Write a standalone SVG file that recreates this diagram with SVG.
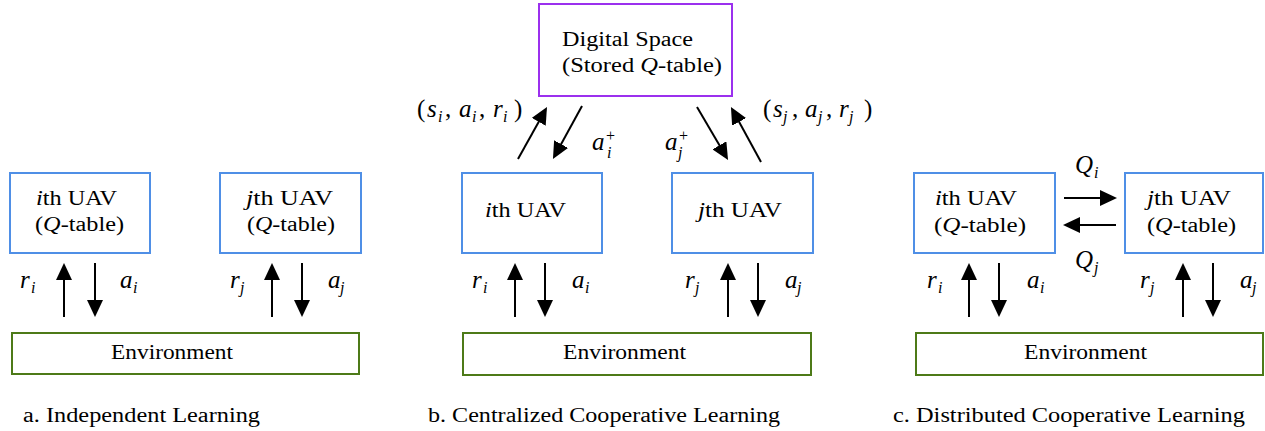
<svg xmlns="http://www.w3.org/2000/svg" width="1265" height="431" viewBox="0 0 1265 431">
<defs>
<marker id="ah" markerUnits="userSpaceOnUse" markerWidth="17" markerHeight="16" refX="9" refY="8" orient="auto">
<path d="M0,0 L17,8 L0,16 z" fill="#000"/>
</marker>
</defs>
<rect width="1265" height="431" fill="#fff"/>
<g id="a-uav-i"><rect fill="#fff" stroke="#4f8fe6" stroke-width="2" x="10" y="173" width="140" height="80"/>
<text font-family="Liberation Serif" font-size="20" x="36" y="205" textLength="81" lengthAdjust="spacingAndGlyphs"><tspan font-style="italic">i</tspan>th UAV</text>
<text font-family="Liberation Serif" font-size="20" x="35" y="231" textLength="89" lengthAdjust="spacingAndGlyphs">(<tspan font-style="italic">Q</tspan>-table)</text></g>
<g id="a-uav-j"><rect fill="#fff" stroke="#4f8fe6" stroke-width="2" x="220" y="173" width="141" height="80"/>
<text font-family="Liberation Serif" font-size="20" x="246" y="205" textLength="87" lengthAdjust="spacingAndGlyphs"><tspan font-style="italic">j</tspan>th UAV</text>
<text font-family="Liberation Serif" font-size="20" x="247" y="231" textLength="88" lengthAdjust="spacingAndGlyphs">(<tspan font-style="italic">Q</tspan>-table)</text></g>
<g id="a-env"><rect fill="#fff" stroke="#4d7a18" stroke-width="2" x="12" y="333" width="347" height="41"/>
<text font-family="Liberation Serif" font-size="20" x="111" y="359" textLength="122" lengthAdjust="spacingAndGlyphs">Environment</text></g>
<g id="b-digital"><rect fill="#fff" stroke="#9b30ee" stroke-width="2" x="539" y="4" width="193" height="92"/>
<text font-family="Liberation Serif" font-size="20" x="562" y="46" textLength="131" lengthAdjust="spacingAndGlyphs">Digital Space</text>
<text font-family="Liberation Serif" font-size="20" x="562" y="72" textLength="160" lengthAdjust="spacingAndGlyphs">(Stored <tspan font-style="italic">Q</tspan>-table)</text></g>
<g id="b-uav-i"><rect fill="#fff" stroke="#4f8fe6" stroke-width="2" x="462" y="173" width="140" height="80"/>
<text font-family="Liberation Serif" font-size="20" x="485" y="217" textLength="81" lengthAdjust="spacingAndGlyphs"><tspan font-style="italic">i</tspan>th UAV</text></g>
<g id="b-uav-j"><rect fill="#fff" stroke="#4f8fe6" stroke-width="2" x="672" y="173" width="141" height="80"/>
<text font-family="Liberation Serif" font-size="20" x="698" y="217" textLength="84" lengthAdjust="spacingAndGlyphs"><tspan font-style="italic">j</tspan>th UAV</text></g>
<g id="b-env"><rect fill="#fff" stroke="#4d7a18" stroke-width="2" x="463" y="333" width="348" height="42"/>
<text font-family="Liberation Serif" font-size="20" x="563" y="359" textLength="123" lengthAdjust="spacingAndGlyphs">Environment</text></g>
<g id="c-uav-i"><rect fill="#fff" stroke="#4f8fe6" stroke-width="2" x="914" y="173" width="141" height="80"/>
<text font-family="Liberation Serif" font-size="20" x="935" y="205" textLength="82" lengthAdjust="spacingAndGlyphs"><tspan font-style="italic">i</tspan>th UAV</text>
<text font-family="Liberation Serif" font-size="20" x="934" y="232" textLength="92" lengthAdjust="spacingAndGlyphs">(<tspan font-style="italic">Q</tspan>-table)</text></g>
<g id="c-uav-j"><rect fill="#fff" stroke="#4f8fe6" stroke-width="2" x="1125" y="173" width="138" height="80"/>
<text font-family="Liberation Serif" font-size="20" x="1147" y="205" textLength="84" lengthAdjust="spacingAndGlyphs"><tspan font-style="italic">j</tspan>th UAV</text>
<text font-family="Liberation Serif" font-size="20" x="1147" y="232" textLength="89" lengthAdjust="spacingAndGlyphs">(<tspan font-style="italic">Q</tspan>-table)</text></g>
<g id="c-env"><rect fill="#fff" stroke="#4d7a18" stroke-width="2" x="916" y="333" width="347" height="42"/>
<text font-family="Liberation Serif" font-size="20" x="1024" y="359" textLength="123" lengthAdjust="spacingAndGlyphs">Environment</text></g>
<g id="connectors" stroke="#000" stroke-width="2" fill="none" marker-end="url(#ah)">
<line x1="64" y1="317" x2="64" y2="271"/>
<line x1="95" y1="263" x2="95" y2="309"/>
<line x1="272" y1="317" x2="272" y2="271"/>
<line x1="302" y1="263" x2="302" y2="309"/>
<line x1="515" y1="317" x2="515" y2="271"/>
<line x1="545" y1="263" x2="545" y2="309"/>
<line x1="728" y1="317" x2="728" y2="271"/>
<line x1="758" y1="263" x2="758" y2="309"/>
<line x1="518" y1="159" x2="543.1" y2="114"/>
<line x1="582" y1="106" x2="556.8" y2="152"/>
<line x1="697" y1="107" x2="724" y2="153.1"/>
<line x1="761" y1="162" x2="734.8" y2="114"/>
<line x1="969" y1="317" x2="969" y2="271"/>
<line x1="999" y1="263" x2="999" y2="309"/>
<line x1="1183" y1="317" x2="1183" y2="271"/>
<line x1="1213" y1="263" x2="1213" y2="309"/>
<line x1="1064" y1="198" x2="1109" y2="198"/>
<line x1="1116" y1="225" x2="1071" y2="225"/>
</g>
<g id="labels">
<text font-family="Liberation Serif" font-size="25" font-style="italic" x="20" y="288">r<tspan font-size="16" x="31" y="293">i</tspan></text>
<text font-family="Liberation Serif" font-size="25" font-style="italic" x="120" y="288">a<tspan font-size="16" x="133" y="293">i</tspan></text>
<text font-family="Liberation Serif" font-size="25" font-style="italic" x="230" y="288">r<tspan font-size="16" x="240" y="293">j</tspan></text>
<text font-family="Liberation Serif" font-size="25" font-style="italic" x="328" y="288">a<tspan font-size="16" x="340" y="293">j</tspan></text>
<text font-family="Liberation Serif" font-size="25" font-style="italic" x="472" y="288">r<tspan font-size="16" x="483" y="293">i</tspan></text>
<text font-family="Liberation Serif" font-size="25" font-style="italic" x="572" y="288">a<tspan font-size="16" x="585" y="293">i</tspan></text>
<text font-family="Liberation Serif" font-size="25" font-style="italic" x="685" y="288">r<tspan font-size="16" x="695" y="293">j</tspan></text>
<text font-family="Liberation Serif" font-size="25" font-style="italic" x="785" y="288">a<tspan font-size="16" x="797" y="293">j</tspan></text>
<text font-family="Liberation Serif" font-size="25" font-style="italic" x="417" y="117"><tspan font-style="normal">(</tspan><tspan x="427">s</tspan><tspan font-size="16" x="438" y="122">i</tspan><tspan font-style="normal" x="445" y="117">,</tspan><tspan x="459">a</tspan><tspan font-size="16" x="472" y="122">i</tspan><tspan font-style="normal" x="479" y="117">,</tspan><tspan x="493">r</tspan><tspan font-size="16" x="503" y="122">i</tspan><tspan font-style="normal" x="514" y="117">)</tspan></text>
<text font-family="Liberation Serif" font-size="25" font-style="italic" x="763" y="117"><tspan font-style="normal">(</tspan><tspan x="773">s</tspan><tspan font-size="16" x="783" y="122">j</tspan><tspan font-style="normal" x="792" y="117">,</tspan><tspan x="805">a</tspan><tspan font-size="16" x="818" y="122">j</tspan><tspan font-style="normal" x="826" y="117">,</tspan><tspan x="839">r</tspan><tspan font-size="16" x="849" y="122">j</tspan><tspan font-style="normal" x="864" y="117">)</tspan></text>
<text font-family="Liberation Serif" font-size="25" font-style="italic" x="592" y="150">a<tspan font-size="16" font-style="normal" x="606" y="141">+</tspan><tspan font-size="16" x="607" y="158">i</tspan></text>
<text font-family="Liberation Serif" font-size="25" font-style="italic" x="665" y="150">a<tspan font-size="16" font-style="normal" x="679" y="141">+</tspan><tspan font-size="16" x="678" y="158">j</tspan></text>
<text font-family="Liberation Serif" font-size="25" font-style="italic" x="927" y="288">r<tspan font-size="16" x="938" y="293">i</tspan></text>
<text font-family="Liberation Serif" font-size="25" font-style="italic" x="1027" y="288">a<tspan font-size="16" x="1040" y="293">i</tspan></text>
<text font-family="Liberation Serif" font-size="25" font-style="italic" x="1140" y="288">r<tspan font-size="16" x="1150" y="293">j</tspan></text>
<text font-family="Liberation Serif" font-size="25" font-style="italic" x="1240" y="288">a<tspan font-size="16" x="1252" y="293">j</tspan></text>
<text font-family="Liberation Serif" font-size="25" font-style="italic" x="1075" y="173">Q<tspan font-size="16" x="1094" y="178">i</tspan></text>
<text font-family="Liberation Serif" font-size="25" font-style="italic" x="1075" y="268">Q<tspan font-size="16" x="1094" y="273">j</tspan></text>
</g>
<g id="captions">
<text font-family="Liberation Serif" font-size="20" x="23" y="422" textLength="237" lengthAdjust="spacingAndGlyphs">a. Independent Learning</text>
<text font-family="Liberation Serif" font-size="20" x="428" y="422" textLength="352" lengthAdjust="spacingAndGlyphs">b. Centralized Cooperative Learning</text>
<text font-family="Liberation Serif" font-size="20" x="893" y="422" textLength="352" lengthAdjust="spacingAndGlyphs">c. Distributed Cooperative Learning</text>
</g>
</svg>
